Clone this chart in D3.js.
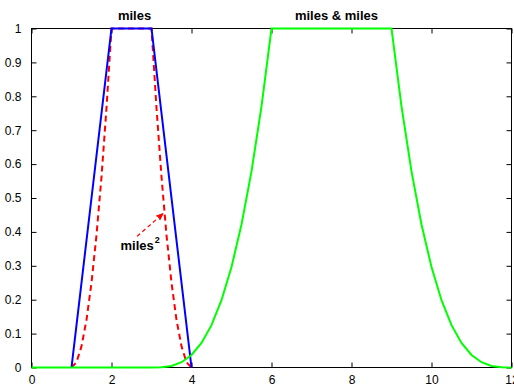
<!DOCTYPE html>
<html>
<head>
<meta charset="utf-8">
<script src="https://cdn.jsdelivr.net/npm/d3@7"></script>
<style>
  html, body { margin: 0; padding: 0; background: #fff; }
  svg { display: block; font-family: "Liberation Sans", Arial, Helvetica, sans-serif; }
  .tick text { font-size: 12px; fill: #000; }
</style>
</head>
<body>
<svg id="chart" width="514" height="387"></svg>
<script>
// Tick labels
const xTicks = [0, 2, 4, 6, 8, 10, 12];
const yTicks = [0, 0.1, 0.2, 0.3, 0.4, 0.5, 0.6, 0.7, 0.8, 0.9, 1];

// "miles": trapezoidal membership
const milesX = [1, 2, 3, 4];
const milesY = [0, 1, 1, 0];

// "miles squared": concentration of miles
const miles2X = [1, 1.125, 1.25, 1.375, 1.5, 1.625, 1.75, 1.875, 2, 3, 3.125, 3.25, 3.375, 3.5, 3.625, 3.75, 3.875, 4];
const miles2Y = [0, 0.0156, 0.0625, 0.1406, 0.25, 0.3906, 0.5625, 0.7656, 1, 1, 0.7656, 0.5625, 0.3906, 0.25, 0.1406, 0.0625, 0.0156, 0];

// "miles & miles"
const bothX = [0, 3, 3.25, 3.5, 3.75, 4, 4.25, 4.5, 4.75, 5, 5.25, 5.5, 5.75, 6,
               9, 9.25, 9.5, 9.75, 10, 10.25, 10.5, 10.75, 11, 11.25, 11.5, 11.75, 12];
const bothY = [0, 0, 0.0006, 0.0046, 0.0156, 0.037, 0.0723, 0.125, 0.1985, 0.2963, 0.4219, 0.5787, 0.7702, 1,
               1, 0.7702, 0.5787, 0.4219, 0.2963, 0.1985, 0.125, 0.0723, 0.037, 0.0156, 0.0046, 0.0006, 0];

// Annotation and title anchors (data units)
const titles = [
  { text: "miles", x: 2.575 },
  { text: "miles & miles", x: 7.625 }
];
const note = { textX: 2.225, textY: 0.348, fromX: 2.64, fromY: 0.387, toX: 3.29, toY: 0.454 };

const svg = d3.select("#chart");
const plotL = 31.5, plotR = 511.5, plotT = 28.5, plotB = 367.5;

const x = d3.scaleLinear().domain([0, 12]).range([plotL, plotR]);
const y = d3.scaleLinear().domain([0, 1]).range([plotB, plotT]);

// Axes with inward ticks on all four sides
const tickLen = 5;
const gx = svg.append("g").attr("transform", `translate(0,${plotB})`)
  .call(d3.axisBottom(x).tickValues(xTicks).tickFormat(d3.format("d"))
        .tickSizeInner(-tickLen).tickSizeOuter(0).tickPadding(8));
const gxt = svg.append("g").attr("transform", `translate(0,${plotT})`)
  .call(d3.axisTop(x).tickValues(xTicks).tickFormat("")
        .tickSizeInner(-tickLen).tickSizeOuter(0));
const gy = svg.append("g").attr("transform", `translate(${plotL},0)`)
  .call(d3.axisLeft(y).tickValues(yTicks).tickFormat(d3.format("~g"))
        .tickSizeInner(-tickLen).tickSizeOuter(0).tickPadding(10));
const gyr = svg.append("g").attr("transform", `translate(${plotR},0)`)
  .call(d3.axisRight(y).tickValues(yTicks).tickFormat("")
        .tickSizeInner(-tickLen).tickSizeOuter(0));
[gx, gxt, gy, gyr].forEach(g => {
  g.select(".domain").remove();
  g.selectAll(".tick line").attr("stroke", "#000").attr("stroke-width", 1);
});
gx.selectAll(".tick text").attr("dy", "0.72em");

svg.append("rect")
  .attr("x", plotL).attr("y", plotT)
  .attr("width", plotR - plotL).attr("height", plotB - plotT)
  .attr("fill", "none").attr("stroke", "#000").attr("stroke-width", 1);

// Curves
const line = d3.line().x(d => x(d[0])).y(d => y(d[1]));
const zip = (xs, ys) => xs.map((v, i) => [v, ys[i]]);

svg.append("path").datum(zip(miles2X, miles2Y))
  .attr("d", line).attr("fill", "none")
  .attr("stroke", "#ff0000").attr("stroke-width", 2)
  .attr("stroke-dasharray", "6,4");

svg.append("path").datum(zip(milesX, milesY))
  .attr("d", line).attr("fill", "none")
  .attr("stroke", "#0000ff").attr("stroke-width", 2)
  .attr("stroke-linejoin", "miter");

svg.append("path").datum(zip(bothX, bothY))
  .attr("d", line).attr("fill", "none")
  .attr("stroke", "#00ff00").attr("stroke-width", 2);

// Titles above each curve
svg.selectAll(".title").data(titles).enter().append("text")
  .attr("class", "title")
  .attr("x", d => x(d.x)).attr("y", 19.5)
  .attr("text-anchor", "middle")
  .attr("font-size", 13).attr("font-weight", "bold")
  .text(d => d.text);

// Annotation: dashed arrow pointing at the squared curve
const ax0 = x(note.fromX), ay0 = y(note.fromY), ax1 = x(note.toX), ay1 = y(note.toY);
const ang = Math.atan2(ay1 - ay0, ax1 - ax0);
const headLen = 7, spread = 0.38;
svg.append("line")
  .attr("x1", ax0).attr("y1", ay0)
  .attr("x2", ax1 - headLen * 0.8 * Math.cos(ang)).attr("y2", ay1 - headLen * 0.8 * Math.sin(ang))
  .attr("stroke", "#ff0000").attr("stroke-width", 1.2)
  .attr("stroke-dasharray", "4,3");
svg.append("path")
  .attr("d", `M${ax1 - headLen * Math.cos(ang - spread)},${ay1 - headLen * Math.sin(ang - spread)}` +
             `L${ax1},${ay1}` +
             `L${ax1 - headLen * Math.cos(ang + spread)},${ay1 - headLen * Math.sin(ang + spread)}` +
             `L${ax1 - headLen * 0.7 * Math.cos(ang)},${ay1 - headLen * 0.7 * Math.sin(ang)}Z`)
  .attr("fill", "#ff0000").attr("stroke", "#ff0000").attr("stroke-width", 1)
  .attr("stroke-linejoin", "miter");

const label = svg.append("text")
  .attr("x", x(note.textX)).attr("y", y(note.textY))
  .attr("font-size", 13).attr("font-weight", "bold");
label.append("tspan").text("miles");
label.append("tspan").attr("dy", -7).attr("dx", 1).attr("font-size", 9).text("2");
</script>
</body>
</html>
